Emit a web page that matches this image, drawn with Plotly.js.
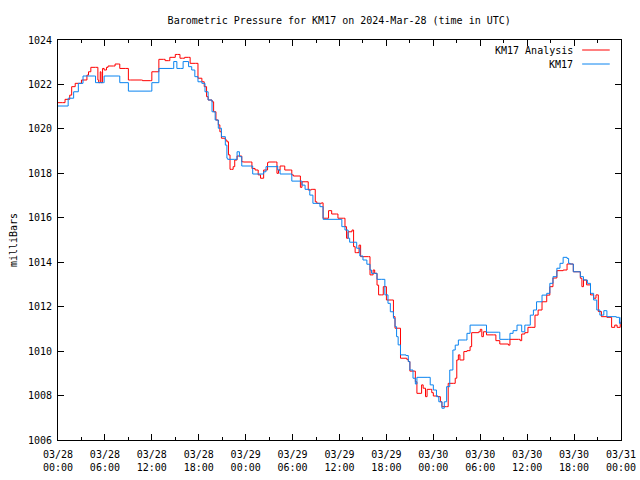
<!DOCTYPE html>
<html>
<head>
<meta charset="utf-8">
<script src="https://cdn.plot.ly/plotly-3.0.1.min.js"></script>
<style>html,body{margin:0;padding:0;background:#fff;}#chart{width:640px;height:480px;}</style>
</head>
<body>
<div id="chart"></div>
<script>
// hours after 2024-03-28 00:00 UTC, and pressure (mb)
const analysisHours = [0,0.6,0.9,1.3,1.5,1.75,2.2,2.6,3.0,3.7,3.9,4.2,4.8,5.1,5.2,5.4,5.5,5.7,5.9,6.2,6.4,7.1,7.3,7.7,7.9,8.6,9.0,9.3,10.7,10.8,11.8,12.0,12.4,12.9,13.5,13.7,14.1,14.3,14.7,15.0,15.3,15.6,15.9,16.2,16.7,16.9,17.6,17.9,18.4,18.7,19.0,19.2,19.7,19.9,20.2,20.5,20.7,20.9,21.4,21.6,21.8,22.0,22.2,22.4,22.6,22.9,23.2,23.5,23.7,24.6,24.8,25.2,25.6,25.9,26.3,26.8,26.9,27.8,28.0,28.2,28.4,28.8,29.0,29.7,29.9,30.1,30.7,31.0,31.2,31.6,32.0,32.4,32.6,32.9,33.1,33.5,33.7,33.9,34.3,34.6,35.0,35.6,35.8,36.5,36.7,36.9,37.1,37.6,37.8,38.0,38.2,38.5,38.7,39.7,39.9,40.3,40.5,40.8,41.0,41.4,41.6,42.0,42.7,42.9,43.1,43.6,43.8,44.6,44.8,45.0,45.4,45.7,45.9,46.3,46.5,46.7,47.0,47.2,47.6,47.8,48.0,48.4,48.6,48.9,49.1,49.7,49.9,50.6,50.8,51.0,51.2,51.4,51.9,52.3,52.7,52.9,53.8,54.0,54.2,54.4,54.8,55.7,56.0,56.5,57.6,57.8,58.9,59.1,59.3,59.7,60.1,60.6,61.0,61.4,61.9,62.5,62.9,63.3,63.8,64.6,65.1,65.6,65.9,66.5,66.8,67.0,67.2,67.6,68.1,68.5,68.8,69.1,69.5,70.2,70.8,71.2,71.5,71.9];
const analysisValues = [1021.18,1021.18,1021.33,1021.33,1021.52,1021.9,1022.05,1022.05,1022.2,1022.42,1022.57,1022.77,1022.77,1022.2,1022.08,1022.57,1022.08,1022.72,1022.65,1022.77,1022.83,1022.83,1022.92,1022.92,1022.72,1022.72,1022.2,1022.2,1022.2,1022.17,1022.17,1022.57,1022.57,1023.13,1023.13,1023.07,1023.07,1023.22,1023.22,1023.35,1023.35,1023.18,1023.18,1023.22,1023.22,1022.95,1022.95,1022.28,1022.12,1021.9,1021.45,1021.3,1021.22,1020.77,1020.4,1020.18,1019.87,1019.58,1019.5,1019.42,1018.83,1018.18,1018.18,1018.3,1018.6,1018.78,1018.78,1018.52,1018.51,1018.51,1018.22,1018.15,1017.93,1017.78,1018.15,1018.48,1018.51,1018.51,1018.0,1018.15,1018.33,1018.33,1018.15,1018.15,1017.93,1017.88,1017.88,1017.37,1017.62,1017.62,1017.25,1017.28,1017.28,1016.72,1016.65,1016.65,1016.67,1015.98,1015.98,1016.32,1016.17,1016.17,1015.98,1015.98,1015.6,1015.08,1015.37,1015.45,1014.7,1014.43,1014.43,1014.77,1014.25,1014.25,1013.43,1013.65,1013.5,1012.97,1012.53,1012.53,1012.9,1012.3,1012.3,1011.55,1011.03,1011.03,1009.68,1009.63,1009.53,1009.1,1009.1,1008.62,1008.1,1008.1,1008.48,1008.33,1007.95,1008.28,1008.28,1008.13,1007.98,1007.98,1007.95,1007.72,1007.5,1007.5,1008.55,1008.55,1008.78,1009.6,1009.83,1009.6,1009.98,1010.02,1010.2,1010.83,1010.87,1010.98,1010.65,1010.87,1010.73,1010.73,1010.47,1010.32,1010.27,1010.53,1010.53,1010.47,1010.77,1010.83,1011.07,1011.07,1011.62,1011.85,1012.22,1012.52,1012.9,1013.29,1013.62,1013.65,1013.92,1013.92,1013.57,1013.57,1013.28,1012.9,1013.2,1012.98,1012.53,1012.38,1012.53,1011.78,1011.55,1011.52,1011.07,1011.17,1011.07,1011.32];

const stationHours = [0,0.9,1.3,2.0,2.6,3.2,4.7,4.8,5.8,5.9,7.7,7.9,8.7,9.0,11.8,12.0,12.9,14.6,14.8,15.2,15.7,16.0,16.7,17.1,17.5,17.9,18.4,18.8,19.2,19.7,20.1,20.5,20.9,21.4,21.6,21.7,22.6,22.9,23.2,23.5,24.6,24.9,26.1,26.3,26.6,28.0,28.1,28.4,29.7,29.9,31.0,31.2,31.6,32.0,32.2,32.6,33.3,33.5,33.9,35.8,36.3,36.7,37.1,37.3,37.8,38.2,38.6,39.0,39.5,39.9,40.1,40.5,40.8,41.4,41.8,42.2,42.5,42.9,43.1,43.3,43.5,43.8,44.5,44.8,45.0,45.4,45.7,45.9,47.2,47.6,48.0,48.4,48.7,49.1,49.4,49.7,50.1,50.5,50.8,51.2,52.1,52.3,52.7,54.6,54.8,56.3,56.5,57.6,57.8,58.2,58.7,59.0,59.3,59.7,59.9,60.4,60.8,61.2,61.9,62.5,62.9,63.3,63.8,64.2,64.6,65.1,65.3,65.5,65.9,66.5,66.8,67.2,67.7,68.1,68.5,68.9,69.3,69.8,70.1,70.2,71.4,71.8,72.0];
const stationValues = [1021.03,1021.03,1021.38,1021.67,1022.05,1022.38,1022.38,1022.08,1022.08,1022.38,1022.38,1022.08,1022.08,1021.7,1021.7,1022.08,1022.72,1022.72,1023.03,1022.72,1022.72,1023.03,1022.8,1022.65,1022.35,1022.12,1022.05,1021.67,1021.3,1020.77,1020.4,1020.03,1019.65,1019.27,1018.68,1018.63,1018.63,1018.97,1018.75,1018.33,1018.33,1017.97,1017.97,1018.07,1018.3,1018.33,1018.15,1017.97,1017.97,1017.65,1017.65,1017.47,1017.28,1017.28,1017.02,1016.65,1016.65,1016.5,1015.93,1015.93,1015.6,1015.45,1015.08,1014.9,1014.9,1014.63,1014.28,1014.1,1013.91,1013.65,1013.5,1013.5,1013.23,1013.23,1012.53,1012.15,1011.77,1011.48,1011.1,1010.65,1010.28,1009.83,1009.8,1009.53,1009.15,1008.78,1008.52,1008.82,1008.82,1008.48,1008.25,1007.95,1007.72,1007.43,1007.72,1008.4,1009.15,1010.05,1010.27,1010.5,1010.5,1010.8,1011.17,1011.17,1010.85,1010.85,1010.53,1010.53,1010.8,1010.92,1011.17,1011.17,1010.87,1011.17,1011.17,1011.62,1011.85,1012.22,1012.52,1012.6,1013.05,1013.35,1013.73,1013.95,1014.22,1014.17,1013.95,1013.92,1013.57,1013.57,1013.35,1013.2,1013.05,1012.6,1012.3,1011.85,1011.62,1011.82,1011.82,1011.55,1011.52,1011.25,1011.52];

const seriesNames = ['KM17 Analysis', 'KM17'];
const seriesColors = ['#ff0000', '#0a84f0'];
const startMs = Date.UTC(2024, 2, 28, 0, 0, 0);
const endMs = Date.UTC(2024, 2, 31, 0, 0, 0);
const toMs = hs => hs.map(h => startMs + h * 3600000);

const fontFam = 'DejaVu Sans Mono, monospace';
const FS = 10;
const traces = [
  {x: toMs(analysisHours), y: analysisValues, name: seriesNames[0], type: 'scatter', mode: 'lines',
   line: {color: seriesColors[0], width: 1, shape: 'hv'}},
  {x: toMs(stationHours), y: stationValues, name: seriesNames[1], type: 'scatter', mode: 'lines',
   line: {color: seriesColors[1], width: 1, shape: 'hv'}}
];

// gnuplot-style key: text right-aligned, sample line to its right
const keyRows = [0.975, 0.94];
const annotations = seriesNames.map((n, i) => ({
  xref: 'paper', yref: 'paper', x: 0.918, y: keyRows[i], xanchor: 'right', yanchor: 'middle',
  text: n, showarrow: false, font: {family: fontFam, size: FS, color: '#000'}
}));
const shapes = seriesNames.map((n, i) => ({
  type: 'line', xref: 'paper', yref: 'paper', x0: 0.931, x1: 0.98, y0: keyRows[i], y1: keyRows[i],
  line: {color: seriesColors[i], width: 1}
}));

const layout = {
  width: 640, height: 480,
  margin: {l: 58, r: 19, t: 40, b: 40},
  paper_bgcolor: '#fff', plot_bgcolor: '#fff',
  font: {family: fontFam, size: FS, color: '#000'},
  title: {text: 'Barometric Pressure for KM17 on 2024-Mar-28 (time in UTC)', x: 0.53, xanchor: 'center', y: 0.958, yanchor: 'middle',
          font: {family: fontFam, size: FS, color: '#000'}},
  xaxis: {type: 'date', range: [startMs, endMs], tickmode: 'linear', tick0: startMs, dtick: 21600000,
          tickformat: '%m/%d<br>%H:%M', showgrid: false, zeroline: false,
          showline: true, linecolor: '#000', linewidth: 1, mirror: 'allticks',
          ticks: 'inside', ticklen: 6, tickcolor: '#000', tickfont: {family: fontFam, size: FS},
          ticklabelstandoff: 5,
          minor: {dtick: 10800000, tick0: startMs, ticks: 'inside', ticklen: 3, tickcolor: '#000', showgrid: false}},
  yaxis: {range: [1006, 1024], tickmode: 'linear', tick0: 1006, dtick: 2, showgrid: false, zeroline: false,
          showline: true, linecolor: '#000', linewidth: 1, mirror: 'allticks',
          ticks: 'inside', ticklen: 6, tickcolor: '#000', tickfont: {family: fontFam, size: FS},
          ticklabelstandoff: 3,
          title: {text: 'milliBars', font: {family: fontFam, size: FS}, standoff: 8}},
  showlegend: false,
  annotations: annotations,
  shapes: shapes
};

Plotly.newPlot('chart', traces, layout, {displayModeBar: false, staticPlot: true});
</script>
</body>
</html>
